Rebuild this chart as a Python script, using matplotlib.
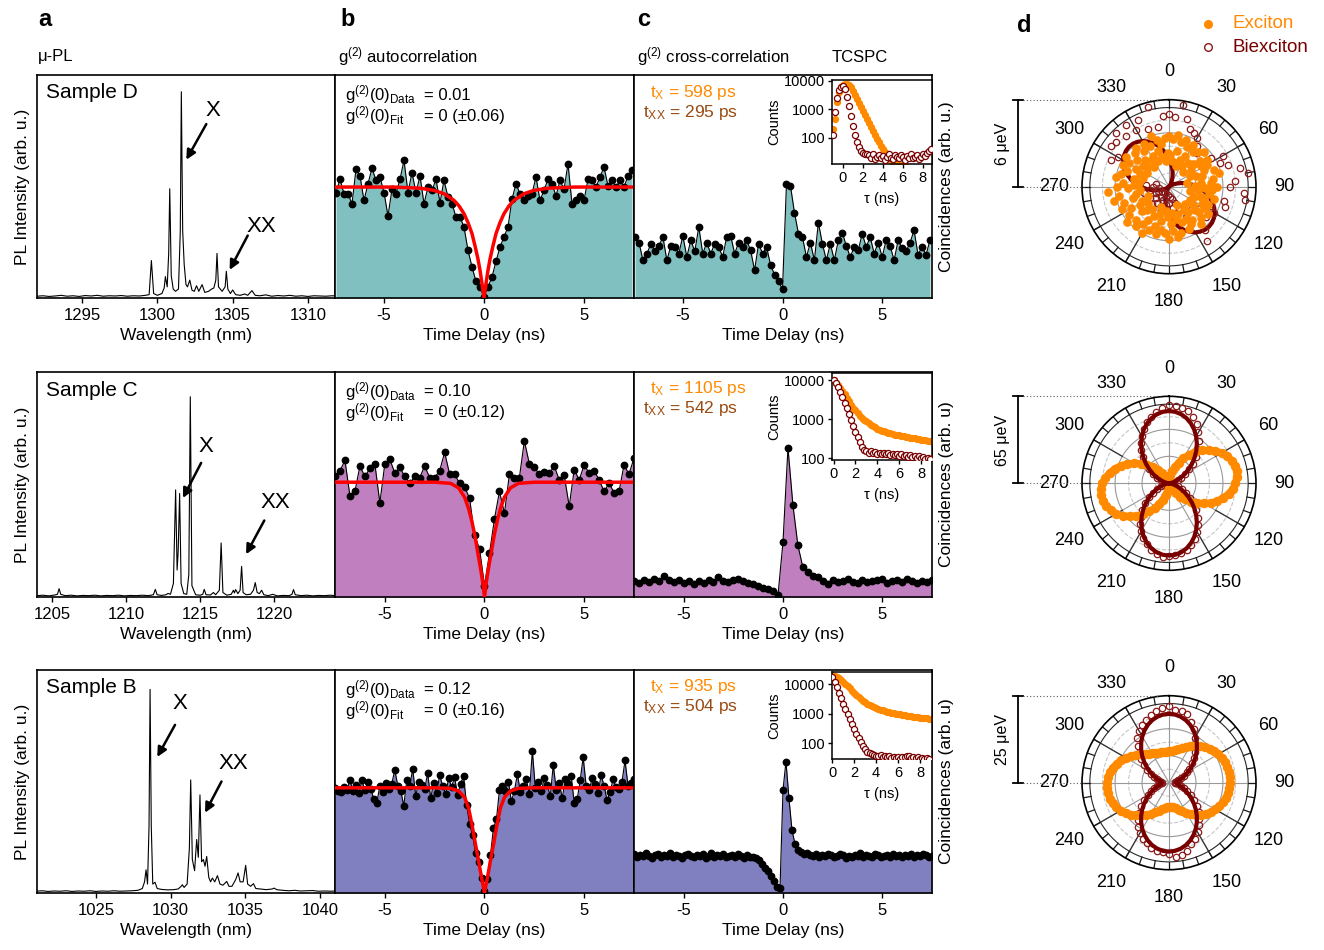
import numpy as np
import matplotlib
matplotlib.use('Agg')
import matplotlib.pyplot as plt
from matplotlib.lines import Line2D

plt.rcParams['font.family'] = ['Liberation Sans', 'DejaVu Sans']
plt.rcParams['mathtext.default'] = 'regular'

# ======================= DATA =======================
samples = ['Sample D', 'Sample C', 'Sample B']
g2_data_txt = ['0.01', '0.10', '0.12']
g2_fit_txt = ['0 (\u00b10.06)', '0 (\u00b10.12)', '0 (\u00b10.16)']
tx_txt = ['598', '1105', '935']
txx_txt = ['295', '542', '504']
scale_txt = ['6 \u03bceV', '65 \u03bceV', '25 \u03bceV']
pol_rmax = [6, 65, 25]

# ---- a: micro-PL spectra (wavelength nm, intensity arb. u.)
pl_wl_D = [1292.0, 1292.4, 1292.8, 1293.2, 1293.6, 1294.0, 1294.4, 1294.8, 1295.2, 1295.6, 1296.0, 1296.4,
           1296.8, 1297.2, 1297.6, 1298.0, 1298.4, 1298.8, 1299.2, 1299.45, 1299.6, 1299.75, 1300.0, 1300.3,
           1300.45, 1300.53, 1300.65, 1300.75, 1300.82, 1300.92, 1301.05, 1301.2, 1301.4, 1301.52, 1301.59,
           1301.68, 1301.78, 1301.9, 1302.0, 1302.15, 1302.3, 1302.45, 1302.6, 1302.75, 1302.97, 1303.15,
           1303.4, 1303.6, 1303.75, 1303.88, 1303.96, 1304.06, 1304.3, 1304.5, 1304.58, 1304.68, 1304.85,
           1305.0, 1305.2, 1305.5, 1305.8, 1306.0, 1306.28, 1306.5, 1306.8, 1307.2, 1307.6, 1308.0, 1308.4,
           1308.8, 1309.2, 1309.6, 1310.0, 1310.4, 1310.8, 1311.2, 1311.6, 1312.0]
pl_int_D = [0.008, 0.010, 0.007, 0.009, 0.012, 0.008, 0.010, 0.007, 0.011, 0.009, 0.012, 0.008,
            0.010, 0.009, 0.011, 0.008, 0.010, 0.009, 0.012, 0.015, 0.168, 0.020, 0.012, 0.020,
            0.045, 0.096, 0.050, 0.200, 0.490, 0.100, 0.040, 0.030, 0.040, 0.300, 0.925,
            0.300, 0.150, 0.060, 0.050, 0.080, 0.035, 0.030, 0.055, 0.030, 0.060, 0.025,
            0.030, 0.040, 0.045, 0.080, 0.200, 0.050, 0.030, 0.050, 0.120, 0.040, 0.020,
            0.036, 0.015, 0.012, 0.018, 0.012, 0.033, 0.012, 0.010, 0.014, 0.008, 0.011, 0.009,
            0.012, 0.008, 0.010, 0.007, 0.010, 0.009, 0.008, 0.010, 0.009]
pl_wl_C = [1204.0, 1204.4, 1204.8, 1205.2, 1205.38, 1205.49, 1205.6, 1205.9, 1206.3, 1206.7, 1207.1, 1207.5,
           1207.9, 1208.3, 1208.7, 1209.1, 1209.5, 1209.9, 1210.3, 1210.7, 1211.1, 1211.5, 1211.85, 1211.98,
           1212.1, 1212.4, 1212.7, 1212.84, 1213.0, 1213.2, 1213.35, 1213.45, 1213.52, 1213.62, 1213.72,
           1213.9, 1214.1, 1214.24, 1214.34, 1214.45, 1214.7, 1215.0, 1215.18, 1215.28, 1215.4, 1215.7,
           1215.9, 1216.05, 1216.3, 1216.42, 1216.54, 1216.8, 1217.1, 1217.25, 1217.32, 1217.4, 1217.55,
           1217.7, 1217.8, 1217.9, 1218.1, 1218.4, 1218.6, 1218.72, 1218.85, 1219.0, 1219.15, 1219.3,
           1219.6, 1219.9, 1220.2, 1220.6, 1221.0, 1221.2, 1221.3, 1221.42, 1221.8, 1222.2, 1222.6,
           1223.0, 1223.4, 1223.8, 1224.1]
pl_int_C = [0.006, 0.008, 0.005, 0.009, 0.012, 0.037, 0.012, 0.006, 0.008, 0.005, 0.007, 0.006,
            0.008, 0.005, 0.007, 0.006, 0.008, 0.005, 0.007, 0.006, 0.008, 0.006, 0.010, 0.034,
            0.010, 0.007, 0.010, 0.016, 0.012, 0.060, 0.476, 0.120, 0.200, 0.460, 0.060,
            0.015, 0.012, 0.100, 0.890, 0.050, 0.010, 0.008, 0.012, 0.034, 0.010, 0.009,
            0.020, 0.010, 0.030, 0.240, 0.020, 0.008, 0.012, 0.030, 0.018, 0.033, 0.015,
            0.030, 0.136, 0.020, 0.010, 0.012, 0.030, 0.064, 0.020, 0.015, 0.030, 0.010,
            0.006, 0.012, 0.005, 0.007, 0.006, 0.012, 0.033, 0.010, 0.006, 0.008, 0.005,
            0.007, 0.006, 0.008, 0.006]
pl_wl_B = [1021.0, 1021.4, 1021.8, 1022.2, 1022.6, 1023.0, 1023.4, 1023.8, 1024.2, 1024.6, 1025.0, 1025.4,
           1025.8, 1026.2, 1026.6, 1027.0, 1027.4, 1027.8, 1028.1, 1028.25, 1028.35, 1028.45, 1028.55,
           1028.62, 1028.7, 1028.8, 1028.95, 1029.1, 1029.4, 1029.8, 1030.2, 1030.5, 1030.7, 1030.78,
           1030.9, 1031.1, 1031.25, 1031.34, 1031.45, 1031.6, 1031.74, 1031.85, 1031.96, 1032.07, 1032.19,
           1032.3, 1032.41, 1032.55, 1032.67, 1032.79, 1032.95, 1033.13, 1033.3, 1033.5, 1033.75, 1033.9,
           1034.1, 1034.35, 1034.51, 1034.65, 1034.85, 1035.02, 1035.15, 1035.35, 1035.54, 1035.7, 1036.0,
           1036.4, 1036.8, 1036.92, 1037.1, 1037.5, 1037.9, 1038.3, 1038.7, 1039.1, 1039.5, 1039.9,
           1040.3, 1040.7, 1041.0]
pl_int_B = [0.008, 0.010, 0.007, 0.009, 0.008, 0.010, 0.007, 0.009, 0.008, 0.010, 0.007, 0.009,
            0.008, 0.010, 0.008, 0.009, 0.010, 0.012, 0.020, 0.050, 0.104, 0.040, 0.300,
            0.913, 0.300, 0.040, 0.048, 0.020, 0.016, 0.014, 0.015, 0.018, 0.030, 0.037,
            0.025, 0.040, 0.200, 0.507, 0.150, 0.100, 0.240, 0.160, 0.440, 0.140, 0.150,
            0.120, 0.164, 0.070, 0.050, 0.067, 0.050, 0.078, 0.040, 0.035, 0.052, 0.030,
            0.030, 0.060, 0.090, 0.050, 0.050, 0.124, 0.040, 0.030, 0.042, 0.020, 0.018,
            0.015, 0.018, 0.022, 0.015, 0.012, 0.010, 0.012, 0.009, 0.010, 0.011, 0.008,
            0.009, 0.008, 0.009]
pl_ticks_D = [1295, 1300, 1305, 1310]
pl_ticks_C = [1205, 1210, 1215, 1220]
pl_ticks_B = [1025, 1030, 1035, 1040]

# ---- b/c: time grids (ns)
t_D = np.linspace(-7.4, 7.4, 75)
t_C = np.linspace(-7.5, 7.5, 61)
t_B = np.linspace(-7.5, 7.5, 101)

g2_auto_D = [0.95, 1.07, 0.94, 0.94, 0.85, 1.16, 1.10, 0.88, 1.03, 1.17,
             1.06, 1.09, 0.95, 0.74, 0.98, 0.94, 1.07, 1.24, 0.95, 1.13,
             0.95, 1.10, 0.85, 1.00, 0.97, 1.07, 0.86, 1.06, 0.91, 0.85,
             0.73, 0.73, 0.64, 0.43, 0.28, 0.15, 0.10, 0.01, 0.10, 0.19,
             0.33, 0.46, 0.55, 0.64, 0.89, 1.03, 0.94, 0.88, 0.92, 0.94,
             1.09, 0.88, 0.97, 1.07, 1.03, 0.92, 1.06, 0.98, 1.21, 0.85,
             0.88, 0.92, 0.88, 1.07, 1.06, 1.00, 1.09, 1.18, 1.01, 1.06,
             1.00, 1.06, 1.00, 1.10, 1.15]
g2_cross_D = [0.55, 0.50, 0.34, 0.40, 0.49, 0.42, 0.47, 0.55, 0.34, 0.47,
              0.46, 0.40, 0.56, 0.37, 0.52, 0.42, 0.64, 0.40, 0.50, 0.40,
              0.49, 0.46, 0.37, 0.55, 0.56, 0.40, 0.50, 0.46, 0.52, 0.43,
              0.25, 0.49, 0.40, 0.46, 0.30, 0.21, 0.15, 0.08, 1.03, 1.01,
              0.77, 0.58, 0.55, 0.37, 0.50, 0.34, 0.68, 0.49, 0.34, 0.49,
              0.34, 0.52, 0.59, 0.47, 0.37, 0.46, 0.43, 0.58, 0.46, 0.55,
              0.40, 0.50, 0.37, 0.52, 0.47, 0.34, 0.52, 0.45, 0.42, 0.50,
              0.61, 0.39, 0.46, 0.39, 0.52]
g2_auto_C = [1.05, 1.10, 1.19, 0.88, 0.92, 1.14, 1.05, 1.12, 1.16, 0.82,
             1.16, 1.20, 1.08, 1.13, 1.05, 0.99, 1.05, 1.04, 1.14, 1.04,
             1.04, 1.10, 1.26, 1.07, 1.07, 0.99, 0.96, 0.86, 0.54, 0.42,
             0.10, 0.38, 0.68, 0.92, 0.73, 1.07, 1.04, 1.04, 1.36, 1.16,
             1.13, 1.07, 1.09, 1.08, 1.14, 1.02, 1.06, 0.79, 1.11, 1.02,
             1.15, 1.08, 1.10, 1.02, 0.92, 0.99, 0.91, 0.92, 1.15, 1.07,
             1.21]
g2_cross_C = [0.14, 0.12, 0.15, 0.13, 0.16, 0.14, 0.18, 0.15, 0.13, 0.15,
              0.12, 0.14, 0.11, 0.14, 0.12, 0.15, 0.13, 0.17, 0.14, 0.13,
              0.15, 0.16, 0.14, 0.12, 0.11, 0.10, 0.08, 0.07, 0.05, 0.02,
              0.48, 1.30, 0.80, 0.45, 0.26, 0.22, 0.18, 0.17, 0.14, 0.11,
              0.15, 0.13, 0.14, 0.16, 0.13, 0.12, 0.15, 0.13, 0.14, 0.15,
              0.16, 0.12, 0.14, 0.15, 0.13, 0.16, 0.14, 0.12, 0.14, 0.13,
              0.15]
g2_auto_B = [1.00, 0.97, 0.96, 1.01, 0.98, 1.07, 0.97, 1.03, 0.95, 1.07,
             0.98, 1.06, 0.99, 0.89, 0.86, 1.02, 0.96, 1.05, 0.99, 1.04,
             1.17, 1.02, 0.97, 0.83, 1.07, 1.02, 1.18, 0.92, 1.06, 1.03,
             0.99, 1.14, 0.90, 1.05, 0.95, 1.12, 1.02, 0.94, 1.09, 1.01,
             1.10, 0.93, 1.04, 1.11, 0.84, 0.66, 0.55, 0.38, 0.29, 0.14,
             0.02, 0.13, 0.36, 0.62, 0.70, 0.98, 1.02, 0.97, 1.06, 0.87,
             0.97, 1.13, 0.96, 1.02, 1.08, 0.94, 1.35, 1.00, 1.06, 0.97,
             1.09, 1.03, 0.92, 1.22, 0.98, 1.05, 0.90, 1.08, 1.04, 1.11,
             0.86, 0.89, 1.07, 1.29, 1.02, 0.98, 1.09, 1.04, 0.95, 1.12,
             1.02, 0.88, 0.96, 1.08, 1.01, 0.99, 1.06, 1.26, 1.02, 1.05,
             1.08]
g2_cross_B = [0.37, 0.34, 0.36, 0.35, 0.38, 0.35, 0.33, 0.36, 0.37, 0.34,
              0.36, 0.35, 0.38, 0.34, 0.36, 0.35, 0.33, 0.36, 0.37, 0.35,
              0.34, 0.36, 0.35, 0.37, 0.33, 0.35, 0.38, 0.34, 0.36, 0.35,
              0.37, 0.34, 0.35, 0.36, 0.34, 0.37, 0.35, 0.33, 0.36, 0.34,
              0.34, 0.33, 0.31, 0.28, 0.24, 0.21, 0.16, 0.11, 0.06, 0.05,
              0.98, 1.25, 0.90, 0.60, 0.47, 0.41, 0.39, 0.37, 0.38, 0.36,
              0.35, 0.37, 0.34, 0.36, 0.35, 0.37, 0.36, 0.34, 0.35, 0.37,
              0.36, 0.33, 0.35, 0.34, 0.36, 0.35, 0.38, 0.34, 0.36, 0.35,
              0.34, 0.37, 0.36, 0.34, 0.35, 0.36, 0.34, 0.37, 0.35, 0.36,
              0.34, 0.36, 0.35, 0.37, 0.34, 0.36, 0.35, 0.37, 0.36, 0.34,
              0.35]

fit_t_D = [-7.5, -4.5, -3.2, -2.5, -2.0, -1.5, -1.25, -1.0, -0.8, -0.6, -0.45, -0.3, -0.2, -0.1, 0.0,
           0.1, 0.2, 0.3, 0.45, 0.6, 0.8, 1.0, 1.25, 1.5, 2.0, 2.5, 3.2, 4.5, 7.5]
fit_g_D = [1.0, 1.0, 0.99, 0.97, 0.94, 0.88, 0.83, 0.76, 0.68, 0.58, 0.47, 0.35, 0.25, 0.13, 0.0,
           0.13, 0.25, 0.35, 0.47, 0.58, 0.68, 0.76, 0.83, 0.88, 0.94, 0.97, 0.99, 1.0, 1.0]
fit_t_C = [-7.5, -2.5, -1.7, -1.3, -1.0, -0.8, -0.65, -0.5, -0.35, -0.2, -0.1, 0.0,
           0.1, 0.2, 0.35, 0.5, 0.65, 0.8, 1.0, 1.3, 1.7, 2.5, 7.5]
fit_g_C = [1.0, 1.0, 0.99, 0.95, 0.87, 0.77, 0.67, 0.55, 0.40, 0.25, 0.14, 0.0,
           0.14, 0.25, 0.40, 0.55, 0.67, 0.77, 0.87, 0.95, 0.99, 1.0, 1.0]
fit_t_B = [-7.5, -2.5, -1.7, -1.3, -1.0, -0.8, -0.6, -0.45, -0.3, -0.2, -0.1, 0.0,
           0.1, 0.2, 0.3, 0.45, 0.6, 0.8, 1.0, 1.3, 1.7, 2.5, 7.5]
fit_g_B = [1.0, 1.0, 0.995, 0.97, 0.91, 0.81, 0.62, 0.46, 0.31, 0.2, 0.1, 0.0,
           0.1, 0.2, 0.31, 0.46, 0.62, 0.81, 0.91, 0.97, 0.995, 1.0, 1.0]

# ---- TCSPC insets (tau in ns, counts)
tau_D = np.linspace(-1.0, 8.8, 50)
tau_C = np.linspace(0.0, 8.8, 45)
tau_B = np.linspace(0.0, 8.8, 45)
tcspc_X_D = [200, 450, 1800, 4000, 6000, 7100, 7600, 7600, 7100, 6000,
             4500, 3200, 2300, 1650, 1200, 870, 630, 460, 330, 240,
             175, 126, 91, 69, 52, 42, 32, 24, 19, 16,
             13.5, 12.5, 12, 11, 11, 10, 10, 9, 9, 9,
             8, 8, 8, 8, 7, 7, 7, 7, 7, 7]
tcspc_XX_D = [126, 800, 2500, 4700, 6000, 6600, 5200, 2800, 1260, 560,
              260, 130, 71, 48, 35, 30, 28, 26, 24, 20,
              27, 18, 22, 25, 19, 23, 17, 21, 26, 20,
              18, 24, 22, 19, 25, 21, 17, 23, 20, 26,
              19, 22, 24, 18, 21, 27, 23, 30, 35, 40]
tcspc_X_C = [10000, 8800, 7700, 6500, 5300, 4400, 3600, 2900, 2400, 2000,
             1700, 1450, 1250, 1100, 980, 880, 800, 730, 670, 620,
             580, 545, 515, 490, 470, 450, 435, 420, 405, 395,
             385, 372, 362, 352, 345, 338, 330, 322, 315, 308,
             300, 295, 290, 285, 280]
tcspc_XX_C = [10000, 8500, 6800, 5000, 3700, 2700, 1900, 1350, 950, 680,
              480, 350, 260, 200, 165, 150, 140, 150, 135, 145,
              130, 140, 125, 135, 128, 138, 122, 130, 118, 128,
              115, 125, 112, 120, 108, 118, 105, 115, 102, 112,
              100, 108, 98, 104, 96]
tcspc_X_B = [21000, 19500, 18000, 16000, 14000, 12000, 10200, 8600, 7200, 6000,
             5000, 4200, 3600, 3100, 2700, 2400, 2150, 1950, 1800, 1650,
             1550, 1450, 1380, 1300, 1240, 1180, 1130, 1090, 1050, 1010,
             980, 950, 920, 890, 860, 840, 820, 800, 780, 760,
             740, 720, 705, 690, 670]
tcspc_XX_B = [17000, 12000, 8000, 5200, 3400, 2200, 1450, 950, 640, 430,
              300, 210, 150, 108, 80, 62, 52, 46, 42, 40,
              38, 36, 39, 34, 37, 33, 36, 32, 35, 31,
              34, 30, 33, 35, 38, 36, 32, 34, 31, 33,
              30, 32, 29, 31, 30]

# ---- d: polar data (angle deg, energy micro-eV)
ang = np.arange(0, 360, 5)
pol_X_D_a = [3.5, 3.3, 3.6, 3.2, 3.4, 3.0, 3.3, 2.9, 3.1, 3.4, 2.8, 3.2,
             3.0, 2.7, 3.3, 3.6, 3.1, 2.9, 3.3, 3.0, 2.8, 3.2, 2.6, 3.0,
             2.9, 3.3, 2.7, 3.1, 3.4, 2.8, 3.0, 3.2, 2.6, 3.3, 3.5, 3.1,
             3.6, 3.2, 3.0, 3.4, 2.9, 3.3, 3.7, 3.1, 3.5, 3.2, 3.8, 3.4,
             3.0, 3.6, 3.3, 3.9, 3.5, 4.2, 3.6, 3.2, 3.7, 3.4, 3.1, 3.5,
             3.2, 3.6, 2.9, 3.3, 3.5, 3.0, 3.4, 3.1, 3.7, 3.3, 3.0, 3.4]
pol_X_D_b = [2.2, 1.8, 2.5, 1.5, 2.0, 2.4, 1.7, 2.1, 1.4, 2.3, 1.9, 2.6,
             1.6, 2.0, 2.4, 1.3, 2.2, 1.8, 2.5, 2.0, 1.5, 2.3, 1.9, 2.6,
             1.7, 2.1, 2.4, 1.6, 2.2, 1.9, 2.5, 1.4, 2.0, 2.3, 1.8, 2.6,
             2.1, 1.7, 2.4, 2.0, 1.5, 2.3, 2.7, 1.9, 2.2, 2.5, 1.8, 2.4,
             2.1, 1.6, 2.6, 2.3, 2.0, 2.8, 2.4, 2.1, 2.5, 1.9, 2.2, 2.6,
             1.8, 2.3, 2.0, 2.5, 1.7, 2.2, 2.4, 1.9, 2.6, 2.1, 1.8, 2.3]
pol_XX_D = [5.0, 4.8, 5.7, 4.8, 4.2, 4.1, 3.9, 3.4, 3.0, 2.2, 2.8, 3.5,
            4.3, 3.9, 4.3, 5.1, 5.5, 4.6, 4.2, 5.2, 5.3, 3.9, 4.1, 3.2,
            3.6, 2.6, 3.3, 1.8, 3.9, 4.6, 2.4, 1.6, 1.2, 0.9, 1.5, 0.7,
            1.1, 0.6, 1.3, 0.8, 1.6, 1.0, 0.5, 1.4, 0.9, 1.7, 1.2, 0.6,
            1.5, 1.0, 0.8, 1.8, 1.3, 0.7, 1.1, 1.6, 0.9, 2.1, 3.2, 4.4,
            4.1, 4.9, 4.8, 5.2, 4.6, 5.2, 4.5, 5.1, 4.2, 5.7, 4.2, 4.9]
pol_fit_XX_D = [1.95, 1.61, 1.28, 0.98, 0.70, 0.46, 0.26, 0.12, 0.03, 0.0, 0.03, 0.12,
                0.26, 0.46, 0.70, 0.98, 1.28, 1.61, 1.95, 2.29, 2.62, 2.93, 3.20, 3.44,
                3.64, 3.78, 3.87, 3.90, 3.87, 3.78, 3.64, 3.44, 3.20, 2.93, 2.62, 2.29,
                1.95, 1.61, 1.28, 0.98, 0.70, 0.46, 0.26, 0.12, 0.03, 0.0, 0.03, 0.12,
                0.26, 0.46, 0.70, 0.98, 1.28, 1.61, 1.95, 2.29, 2.62, 2.93, 3.20, 3.44,
                3.64, 3.78, 3.87, 3.90, 3.87, 3.78, 3.64, 3.44, 3.20, 2.93, 2.62, 2.29]
pol_X_C = [1.5, 3.6, 6.3, 9.4, 13.2, 17.0, 21.5, 26.0, 30.2, 34.8, 38.6, 42.3,
           45.5, 48.0, 49.8, 51.0, 51.3, 50.8, 49.6, 47.8, 45.2, 42.0, 38.5, 34.6,
           30.0, 25.8, 21.4, 17.0, 13.0, 9.3, 6.2, 3.6, 1.7, 0.6, 0.2, 0.5,
           1.6, 3.5, 6.1, 9.2, 12.9, 16.9, 21.3, 25.7, 30.1, 34.5, 38.5, 42.2,
           45.3, 47.8, 49.8, 50.9, 51.4, 50.9, 49.7, 47.7, 45.0, 42.0, 38.4, 34.4,
           30.0, 25.6, 21.2, 16.8, 12.9, 9.2, 6.1, 3.5, 1.6, 0.5, 0.1, 0.5]
pol_XX_C = [58.5, 58.0, 57.5, 56.0, 53.0, 49.0, 44.0, 38.5, 33.0, 28.0, 23.0, 18.5,
            14.0, 10.0, 6.8, 4.0, 2.0, 0.8, 0.5, 1.0, 2.2, 4.2, 6.8, 10.5,
            14.5, 19.0, 24.0, 28.5, 33.5, 38.0, 42.0, 46.0, 49.0, 51.5, 53.0, 54.0,
            54.5, 55.0, 53.5, 51.5, 48.5, 45.5, 41.5, 37.5, 32.5, 28.0, 23.0, 18.0,
            13.8, 9.8, 6.5, 3.8, 1.8, 0.6, 0.3, 0.6, 1.8, 3.9, 6.6, 10.0,
            14.0, 18.2, 22.8, 27.5, 32.0, 36.8, 41.0, 45.0, 48.5, 51.5, 54.0, 56.5]
pol_fit_XX_C = [54, 53.6, 52.4, 50.4, 47.7, 44.4, 40.5, 36.3, 31.7, 27.0, 22.3, 17.7,
                13.5, 9.6, 6.3, 3.6, 1.6, 0.4, 0, 0.4, 1.6, 3.6, 6.3, 9.6,
                13.5, 17.7, 22.3, 27.0, 31.7, 36.3, 40.5, 44.4, 47.7, 50.4, 52.4, 53.6,
                54, 53.6, 52.4, 50.4, 47.7, 44.4, 40.5, 36.3, 31.7, 27.0, 22.3, 17.7,
                13.5, 9.6, 6.3, 3.6, 1.6, 0.4, 0, 0.4, 1.6, 3.6, 6.3, 9.6,
                13.5, 17.7, 22.3, 27.0, 31.7, 36.3, 40.5, 44.4, 47.7, 50.4, 52.4, 53.6]
pol_X_B = [9.0, 9.1, 9.4, 9.9, 10.6, 11.4, 12.2, 13.0, 13.8, 14.5, 15.2, 15.8,
           16.3, 16.8, 17.1, 17.4, 17.5, 17.6, 17.5, 17.4, 17.2, 16.9, 16.5, 16.0,
           15.4, 14.7, 13.9, 13.0, 12.0, 11.0, 10.0, 9.0, 8.2, 7.6, 7.2, 7.0,
           7.0, 7.1, 7.4, 7.9, 8.6, 9.4, 10.3, 11.3, 12.3, 13.3, 14.3, 15.2,
           16.0, 16.7, 17.2, 17.6, 17.8, 17.9, 17.8, 17.6, 17.2, 16.7, 16.0, 15.2,
           14.3, 13.3, 12.4, 11.6, 10.8, 10.2, 9.7, 9.4, 9.2, 9.0, 8.9, 8.9]
pol_XX_B = [22.0, 21.0, 20.8, 20.5, 18.5, 17.0, 14.8, 13.0, 11.5, 10.2, 8.6, 7.0,
            6.0, 4.6, 3.8, 2.8, 2.2, 1.8, 1.6, 2.0, 2.8, 3.5, 4.5, 5.8,
            7.2, 8.8, 10.4, 12.0, 13.5, 15.0, 16.5, 17.8, 18.8, 20.2, 21.0, 21.5,
            20.5, 20.0, 19.8, 19.5, 18.5, 17.8, 16.8, 15.5, 14.0, 12.2, 10.4, 8.6,
            7.0, 5.6, 4.5, 3.6, 2.8, 2.3, 2.1, 2.3, 2.9, 3.6, 4.6, 5.8,
            7.3, 8.8, 10.5, 12.2, 13.8, 15.8, 17.0, 18.2, 19.2, 20.0, 20.8, 21.5]
pol_fit_XX_B = [19.8, 19.66, 19.26, 18.61, 17.72, 16.62, 15.35, 13.94, 12.45, 10.9, 9.35, 7.86,
                6.45, 5.18, 4.08, 3.19, 2.54, 2.14, 2.0, 2.14, 2.54, 3.19, 4.08, 5.18,
                6.45, 7.86, 9.35, 10.9, 12.45, 13.94, 15.35, 16.62, 17.72, 18.61, 19.26, 19.66,
                19.8, 19.66, 19.26, 18.61, 17.72, 16.62, 15.35, 13.94, 12.45, 10.9, 9.35, 7.86,
                6.45, 5.18, 4.08, 3.19, 2.54, 2.14, 2.0, 2.14, 2.54, 3.19, 4.08, 5.18,
                6.45, 7.86, 9.35, 10.9, 12.45, 13.94, 15.35, 16.62, 17.72, 18.61, 19.26, 19.66]

# ======================= STYLE / LAYOUT =======================
W, H = 1324, 950
ORANGE = '#FF8A00'
DARKRED = '#7A0000'
BROWN = '#974A12'
fills = ['#80C0C0', '#C080C0', '#8080C0']

fig = plt.figure(figsize=(W / 100, H / 100), dpi=100)


def rect(x0, y0, x1, y1):
    return [x0 / W, 1 - y1 / H, (x1 - x0) / W, (y1 - y0) / H]


def T(x, y, s, **kw):
    kw.setdefault('va', 'center')
    return fig.text(x / W, 1 - y / H, s, **kw)


def L(xs, ys, **kw):
    fig.add_artist(Line2D([x / W for x in xs], [1 - y / H for y in ys],
                          transform=fig.transFigure, **kw))


rows = [
    dict(top=75, bot=298, wl=pl_wl_D, pl=pl_int_D, wlim=(1292.0, 1311.8), wt=pl_ticks_D,
         xarr=((1303.7, 0.84), (1303.25, 0.78), (1301.92, 0.62)),
         xxarr=((1306.9, 0.32), (1306.0, 0.28), (1304.8, 0.126)),
         t=t_D, ga=g2_auto_D, gc=g2_cross_D, ft=fit_t_D, fg=fit_g_D, ylim=2.01, tlim=(-7.45, 7.5),
         tau=tau_D, tx=tcspc_X_D, txx=tcspc_XX_D, in_box=(832, 80, 932, 164),
         in_xlim=(-1.07, 8.93), in_ylim=(12, 10700), coin='Coincidences (arb. u.)',
         cy=186.7, px=pol_X_D_a, px2=pol_X_D_b, pxx=pol_XX_D, pfit=pol_fit_XX_D),
    dict(top=372, bot=597, wl=pl_wl_C, pl=pl_int_C, wlim=(1204.0, 1224.1), wt=pl_ticks_C,
         xarr=((1215.4, 0.67), (1215.07, 0.596), (1213.84, 0.44)),
         xxarr=((1220.1, 0.42), (1219.33, 0.34), (1218.1, 0.19)),
         t=t_C, ga=g2_auto_C, gc=g2_cross_C, ft=fit_t_C, fg=fit_g_C, ylim=1.96, tlim=(-7.5, 7.5),
         tau=tau_C, tx=tcspc_X_C, txx=tcspc_XX_C, in_box=(832, 373, 932, 460),
         in_xlim=(-0.15, 9.0), in_ylim=(90, 15500), coin='Coincidences (arb. u)',
         cy=483.3, px=pol_X_C, px2=None, pxx=pol_XX_C, pfit=pol_fit_XX_C),
    dict(top=670, bot=893, wl=pl_wl_B, pl=pl_int_B, wlim=(1021.05, 1041.0), wt=pl_ticks_B,
         xarr=((1030.6, 0.85), (1030.29, 0.754), (1029.1, 0.61)),
         xxarr=((1034.2, 0.58), (1033.4, 0.5), (1032.3, 0.36)),
         t=t_B, ga=g2_auto_B, gc=g2_cross_B, ft=fit_t_B, fg=fit_g_B, ylim=2.12, tlim=(-7.5, 7.5),
         tau=tau_B, tx=tcspc_X_B, txx=tcspc_XX_B, in_box=(832, 672, 932, 759),
         in_xlim=(-0.03, 9.1), in_ylim=(29, 26000), coin='Coincidences (arb. u)',
         cy=782.7, px=pol_X_B, px2=None, pxx=pol_XX_B, pfit=pol_fit_XX_B),
]

TICKKW = dict(direction='out', length=3.5, width=1, labelsize=12, pad=3.5)


def frame(ax, lw=1.2):
    for s in ax.spines.values():
        s.set_linewidth(lw)
        s.set_color('k')


for i, r in enumerate(rows):
    top, bot = r['top'], r['bot']
    # ---------- a: PL ----------
    axa = fig.add_axes(rect(37, top, 335, bot))
    axa.plot(r['wl'], r['pl'], color='k', lw=0.8)
    axa.set_xlim(*r['wlim'])
    axa.set_ylim(0, 1)
    axa.set_xticks(r['wt'])
    axa.set_yticks([])
    axa.tick_params(axis='x', **TICKKW)
    axa.set_xlabel('Wavelength (nm)', fontsize=12.5, labelpad=4)
    axa.set_ylabel('PL Intensity (arb. u.)', fontsize=12.5, labelpad=5)
    frame(axa)
    axa.text(0.03, 0.92, samples[i], transform=axa.transAxes, fontsize=15, va='center')
    for lab, (tp, tail, head) in (('X', r['xarr']), ('XX', r['xxarr'])):
        axa.text(tp[0], tp[1], lab, fontsize=16, ha='center', va='center')
        axa.annotate('', xy=head, xytext=tail,
                     arrowprops=dict(arrowstyle='-|>', color='k', lw=1.8, mutation_scale=14,
                                     shrinkA=0, shrinkB=0))

    # ---------- b: autocorrelation ----------
    axb = fig.add_axes(rect(335, top, 634, bot))
    axb.fill_between(r['t'], r['ga'], 0, color=fills[i], lw=0, zorder=1)
    axb.plot(r['t'], r['ga'], color='k', lw=0.8, marker='o', ms=4.6, zorder=2)
    axb.plot(r['ft'], r['fg'], color='red', lw=2.5, zorder=3, solid_capstyle='round')
    axb.set_xlim(*r['tlim'])
    axb.set_ylim(0, r['ylim'])
    axb.set_xticks([-5, 0, 5])
    axb.set_xticklabels(['-5', '0', '5'])
    axb.set_yticks([])
    axb.tick_params(axis='x', **TICKKW)
    axb.set_xlabel('Time Delay (ns)', fontsize=12.5, labelpad=4)
    frame(axb)
    T(345, top + 20, 'g$^{(2)}$(0)$_{Data}$', fontsize=12)
    T(424, top + 20, '= ' + g2_data_txt[i], fontsize=12)
    T(345, top + 41, 'g$^{(2)}$(0)$_{Fit}$', fontsize=12)
    T(424, top + 41, '= ' + g2_fit_txt[i], fontsize=12)

    # ---------- c: cross-correlation ----------
    axc = fig.add_axes(rect(634, top, 932, bot))
    axc.fill_between(r['t'], r['gc'], 0, color=fills[i], lw=0, zorder=1)
    axc.plot(r['t'], r['gc'], color='k', lw=0.8, marker='o', ms=4.6, zorder=2)
    axc.set_xlim(*r['tlim'])
    axc.set_ylim(0, r['ylim'])
    axc.set_xticks([-5, 0, 5])
    axc.set_xticklabels(['-5', '0', '5'])
    axc.set_yticks([])
    axc.tick_params(axis='x', **TICKKW)
    axc.set_xlabel('Time Delay (ns)', fontsize=12.5, labelpad=4)
    axc.yaxis.set_label_position('right')
    axc.set_ylabel(r['coin'], fontsize=12.5, labelpad=5)
    frame(axc)
    T(650, top + 17, 't$_X$ = ' + tx_txt[i] + ' ps', fontsize=12.5, color=ORANGE)
    T(643, top + 37, 't$_{XX}$ = ' + txx_txt[i] + ' ps', fontsize=12.5, color=BROWN)

    # ---------- TCSPC inset ----------
    x0, y0, x1, y1 = r['in_box']
    axi = fig.add_axes(rect(x0, y0, x1, y1))
    axi.set_yscale('log')
    axi.plot(r['tau'], r['tx'], ls='none', marker='o', ms=4.2, color=ORANGE, zorder=2)
    axi.plot(r['tau'], r['txx'], ls='none', marker='o', ms=4.4, mfc='white', mec=DARKRED,
             mew=0.9, zorder=3)
    axi.set_xlim(*r['in_xlim'])
    axi.set_ylim(*r['in_ylim'])
    axi.set_xticks([0, 2, 4, 6, 8])
    axi.set_yticks([100, 1000, 10000])
    axi.set_yticklabels(['100', '1000', '10000'])
    axi.minorticks_off()
    axi.tick_params(direction='out', length=3, width=1, labelsize=10.5, pad=2)
    axi.set_ylabel('Counts', fontsize=10.5, labelpad=2)
    axi.set_xlabel('\u03c4 (ns)', fontsize=10.5, labelpad=5)
    frame(axi, 1.1)

    # ---------- d: polar ----------
    R = pol_rmax[i]
    cx, cy, rp = 1169, r['cy'], 87
    pax = fig.add_axes(rect(cx - rp, cy - rp, cx + rp, cy + rp), projection='polar')
    pax.set_theta_zero_location('N')
    pax.set_theta_direction(-1)
    pax.set_ylim(0, R)
    pax.set_xticks([])
    pax.set_yticks([])
    pax.grid(False)
    pax.spines['polar'].set_linewidth(1.2)
    full = np.linspace(0, 2 * np.pi, 361)
    for frac, ls, col in [(0.155, '--', '0.78'), (0.31, '-', '0.6'), (0.465, '--', '0.78'),
                          (0.62, '-', '0.6'), (0.765, '--', '0.78'), (0.91, '-', '0.15')]:
        pax.plot(full, np.full_like(full, frac * R), ls=ls, color=col, lw=0.8, zorder=1)
    for a in range(0, 360, 30):
        th = np.radians(a)
        pax.plot([th, th], [0, R], color='0.6', lw=0.8, zorder=1)
        if a % 90:
            pax.plot([th, th], [0.62 * R, R], color='0.2', lw=0.9, zorder=1)
    for a in range(0, 360, 10):
        th = np.radians(a)
        pax.plot([th, th], [0.91 * R, R], color='0.1', lw=0.9, zorder=1)
    for a in range(0, 360, 30):
        pax.text(np.radians(a), 1.32 * R, str(a), ha='center', va='center', fontsize=13,
                 clip_on=False)

    th = np.radians(np.append(ang, ang[0]))
    fit_r = np.append(r['pfit'], r['pfit'][0])
    if i == 0:
        pax.plot(th, fit_r, color=DARKRED, lw=3, zorder=3)
        pax.plot(np.radians(ang), r['pxx'], ls='none', marker='o', ms=4.6, mfc='none',
                 mec='#8B1A1A', mew=0.9, zorder=4)
        pax.plot(np.radians(ang), r['px'], ls='none', marker='o', ms=5.2, color=ORANGE, zorder=5)
        pax.plot(np.radians(ang + 2.5), r['px2'], ls='none', marker='o', ms=5.2, color=ORANGE,
                 zorder=5)
    else:
        pax.plot(np.radians(ang), r['pxx'], ls='none', marker='o', ms=4.6, mfc='none',
                 mec='#8B1A1A', mew=0.9, zorder=3)
        pax.plot(th, np.append(r['px'], r['px'][0]), color=ORANGE, lw=5, marker='o', ms=5.8,
                 zorder=4)
        pax.plot(th, fit_r, color=DARKRED, lw=3, zorder=5)

    # scale bar
    xb = 1018
    ytop = cy - rp
    L([xb, xb], [ytop, cy], color='k', lw=1.3)
    L([xb - 5, xb + 5], [ytop, ytop], color='k', lw=1.3)
    L([xb - 5, xb + 5], [cy, cy], color='k', lw=1.3)
    L([xb + 5, 1160], [ytop, ytop], color='0.35', lw=0.8, ls=(0, (1, 2)))
    L([xb + 5, 1085], [cy, cy], color='0.35', lw=0.8, ls=(0, (1, 2)))
    T(1003, cy - 43, scale_txt[i], rotation=90, ha='center', fontsize=11.5)

# ---------- headers ----------
T(38, 20, 'a', fontsize=17, fontweight='bold')
T(340, 20, 'b', fontsize=17, fontweight='bold')
T(637, 20, 'c', fontsize=17, fontweight='bold')
T(1017, 25, 'd', fontsize=17, fontweight='bold')
T(38, 57, '\u03bc-PL', fontsize=12)
T(338, 57, 'g$^{(2)}$ autocorrelation', fontsize=12)
T(637, 57, 'g$^{(2)}$ cross-correlation', fontsize=12)
T(832, 57, 'TCSPC', fontsize=12)

# legend
fig.add_artist(Line2D([1208 / W], [1 - 24 / H], ls='none', marker='o', ms=5.5, color=ORANGE,
                      transform=fig.transFigure))
fig.add_artist(Line2D([1208 / W], [1 - 47 / H], ls='none', marker='o', ms=5.5, mfc='none',
                      mec='#8B1A1A', mew=1, transform=fig.transFigure))
T(1233, 24, 'Exciton', fontsize=13.5, color=ORANGE)
T(1233, 47, 'Biexciton', fontsize=13.5, color=DARKRED)

fig.savefig('out.png', dpi=100)
